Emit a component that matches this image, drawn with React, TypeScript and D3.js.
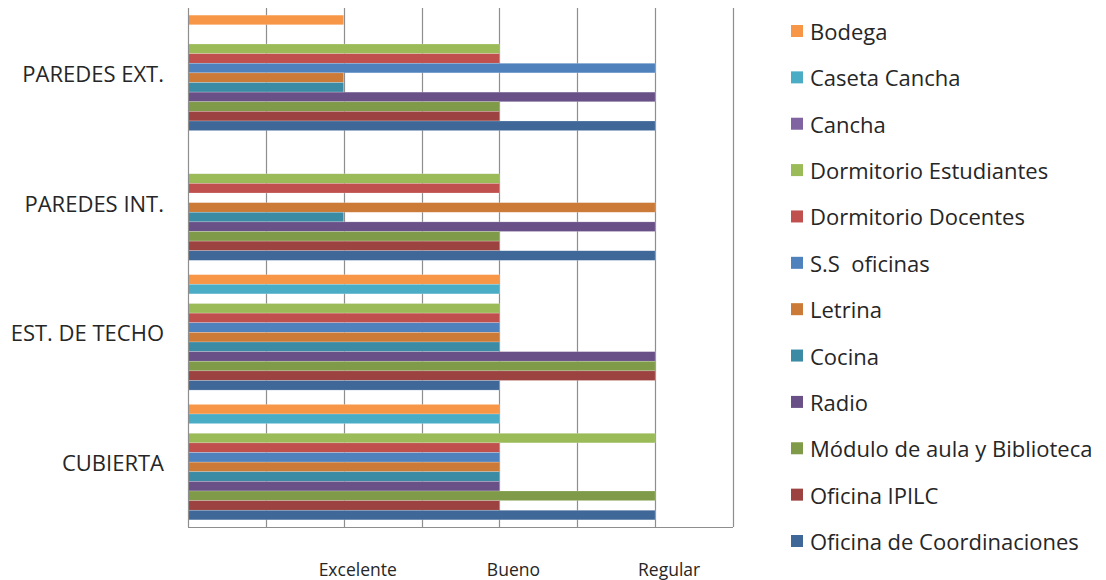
import React from "react";
import * as d3 from "d3";

// Categories, bottom to top as they appear on the vertical axis
const categories = ["CUBIERTA", "EST. DE TECHO", "PAREDES INT.", "PAREDES EXT."];

// Rating scale: 1 = Excelente, 2 = Bueno, 3 = Regular
const ratingTicks = [1, 2, 3];
const ratingLabels = ["Excelente", "Bueno", "Regular"];

// Series in legend order (top of each group first); values follow `categories`
const seriesNames = [
  "Bodega",
  "Caseta Cancha",
  "Cancha",
  "Dormitorio Estudiantes",
  "Dormitorio Docentes",
  "S.S  oficinas",
  "Letrina",
  "Cocina",
  "Radio",
  "Módulo de aula y Biblioteca",
  "Oficina IPILC",
  "Oficina de Coordinaciones",
];

const bodega = [2, 2, null, 1];
const casetaCancha = [2, 2, null, null];
const cancha = [null, null, null, null];
const dormitorioEstudiantes = [3, 2, 2, 2];
const dormitorioDocentes = [2, 2, 2, 2];
const ssOficinas = [2, 2, null, 3];
const letrina = [2, 2, 3, 1];
const cocina = [2, 2, 1, 1];
const radio = [2, 3, 3, 3];
const moduloAula = [3, 3, 2, 2];
const oficinaIpilc = [2, 3, 2, 2];
const oficinaCoordinaciones = [3, 2, 3, 3];

const seriesValues: (number | null)[][] = [
  bodega,
  casetaCancha,
  cancha,
  dormitorioEstudiantes,
  dormitorioDocentes,
  ssOficinas,
  letrina,
  cocina,
  radio,
  moduloAula,
  oficinaIpilc,
  oficinaCoordinaciones,
];

const seriesColors = [
  "#F79646",
  "#4BACC6",
  "#8064A2",
  "#9BBB59",
  "#C0504D",
  "#4F81BD",
  "#CB7A38",
  "#3C8BA4",
  "#695087",
  "#7F9A48",
  "#9C4240",
  "#3F6899",
];

const W = 1106;
const H = 580;
const plot = { left: 188, right: 733, top: 8, bottom: 527 };
const FONT = "'Open Sans', sans-serif";
const TEXT = "#262626";
const GRID = "#8E8E8E";

export default function App() {
  const x = d3.scaleLinear().domain([0, 3.5]).range([plot.left, plot.right]);
  const gridValues = d3.range(0.5, 3.5001, 0.5);

  // top-to-bottom order for the band scale
  const y = d3
    .scaleBand<string>()
    .domain([...categories].reverse())
    .range([plot.top, plot.bottom])
    .paddingInner(0.11)
    .paddingOuter(0.055);

  const inner = d3
    .scaleBand<string>()
    .domain(seriesNames)
    .range([0, y.bandwidth()]);

  const legendY = d3
    .scalePoint<string>()
    .domain(seriesNames)
    .range([31, 541]);

  return (
    <svg
      width={W}
      height={H}
      style={{ position: "absolute", left: 0, top: 0, background: "#fff" }}
      fontFamily={FONT}
    >
      {/* vertical gridlines */}
      {gridValues.map((v) => (
        <line
          key={v}
          x1={Math.round(x(v)) + 0.5}
          x2={Math.round(x(v)) + 0.5}
          y1={plot.top}
          y2={plot.bottom}
          stroke={GRID}
          strokeWidth={1.2}
        />
      ))}

      {/* bars */}
      {seriesNames.map((name, si) =>
        categories.map((cat, ci) => {
          const v = seriesValues[si][ci];
          if (v == null) return null;
          const y0 = (y(cat) ?? 0) + (inner(name) ?? 0);
          return (
            <rect
              key={name + cat}
              x={x(0)}
              y={y0}
              width={x(v) - x(0)}
              height={inner.bandwidth()}
              fill={seriesColors[si]}
              stroke="rgba(255,255,255,0.35)"
              strokeWidth={0.6}
            />
          );
        })
      )}

      {/* axes */}
      <line
        x1={plot.left + 0.5}
        x2={plot.left + 0.5}
        y1={plot.top}
        y2={plot.bottom}
        stroke={GRID}
        strokeWidth={1.2}
      />
      <line
        x1={plot.left}
        x2={plot.right}
        y1={plot.bottom + 0.5}
        y2={plot.bottom + 0.5}
        stroke={GRID}
        strokeWidth={1.2}
      />

      {/* category labels */}
      {categories.map((cat) => (
        <text
          key={cat}
          x={164}
          y={(y(cat) ?? 0) + y.bandwidth() / 2}
          textAnchor="end"
          dominantBaseline="central"
          fontSize={22}
          fill={TEXT}
        >
          {cat}
        </text>
      ))}

      {/* rating labels */}
      {ratingTicks.map((t, i) => (
        <text
          key={t}
          x={x(t) + 14}
          y={569}
          textAnchor="middle"
          dominantBaseline="central"
          fontSize={17.5}
          fill={TEXT}
        >
          {ratingLabels[i]}
        </text>
      ))}

      {/* legend */}
      {seriesNames.map((name, si) => (
        <g key={name} transform={`translate(0,${legendY(name)})`}>
          <rect x={791} y={-6} width={12} height={12} fill={seriesColors[si]} />
          <text
            x={810}
            y={0}
            dominantBaseline="central"
            fontSize={22}
            fill={TEXT}
            style={{ whiteSpace: "pre" }}
          >
            {name}
          </text>
        </g>
      ))}
    </svg>
  );
}
